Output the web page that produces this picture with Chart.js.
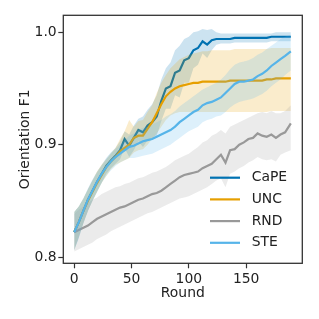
<!DOCTYPE html>
<html>
<head>
<meta charset="utf-8">
<script src="https://cdn.jsdelivr.net/npm/chart.js@4.4.0/dist/chart.umd.min.js"></script>
<style>
  html, body { margin: 0; padding: 0; background: #fff; }
  #wrap { width: 319px; height: 319px; position: relative; }
</style>
</head>
<body>
<div id="wrap"><canvas id="lineChart"></canvas></div>
<script>
const rounds = [0, 4, 8, 12, 16, 20, 24, 28, 32, 36, 40, 44, 48, 52, 56, 60, 64, 68, 72, 76,
  80, 84, 88, 92, 96, 100, 104, 108, 112, 116, 120, 124, 128, 132, 136, 140, 144, 148, 152, 156,
  160, 164, 168, 172, 176, 180, 184, 189];

const names = ['CaPE', 'UNC', 'RND', 'STE'];
const lineColors = ['#0072B2', '#E69F00', '#999999', '#56B4E9'];
const bandColors = ['rgba(0,114,178,0.2)', 'rgba(230,159,0,0.2)', 'rgba(153,153,153,0.2)', 'rgba(86,180,233,0.2)'];

const capeMean = [.822, .831, .841, .851, .859, .867, .874, .881, .886, .890,
  .895, .905, .899, .906, .913, .911, .917, .920, .925, .939,
  .950, .952, .964, .966, .975, .977, .984, .986, .992, .989,
  .993, .994, .994, .994, .994, .995, .995, .995, .995, .995,
  .995, .995, .995, .996, .996, .996, .996, .996];
const capeHi = [.840, .845, .852, .861, .869, .876, .882, .888, .893, .897,
  .903, .912, .909, .917, .923, .925, .931, .936, .944, .958,
  .968, .973, .984, .988, .994, .996, 1.0, 1.001, 1.003, 1.002,
  1.003, 1.0, .999, .999, .999, .999, .999, .999, .999, .999,
  .999, .999, .999, .999, 1.0, 1.0, 1.0, 1.0];
const capeLo = [.806, .817, .830, .841, .850, .858, .866, .874, .879, .883,
  .887, .897, .889, .895, .903, .898, .904, .905, .908, .921,
  .932, .932, .944, .942, .955, .955, .968, .971, .981, .977,
  .984, .989, .990, .990, .990, .991, .991, .991, .991, .991,
  .991, .991, .991, .992, .992, .992, .992, .992];

const uncMean = [.822, .831, .841, .850, .858, .866, .873, .880, .885, .889,
  .894, .897, .900, .906, .908, .908, .914, .920, .928, .936,
  .943, .947, .950, .952, .953, .954, .955, .955, .956, .956,
  .956, .956, .956, .956, .957, .957, .957, .957, .957, .957,
  .957, .957, .958, .958, .959, .959, .959, .959];
const uncHi = [.840, .845, .852, .860, .868, .876, .882, .887, .892, .897,
  .905, .912, .922, .916, .921, .922, .929, .935, .946, .955,
  .962, .968, .972, .976, .978, .980, .981, .982, .983, .983,
  .984, .984, .984, .984, .984, .985, .985, .985, .985, .985,
  .985, .985, .985, .986, .986, .986, .986, .986];
const uncLo = [.806, .818, .830, .841, .850, .858, .866, .872, .878, .882,
  .884, .886, .888, .893, .895, .896, .900, .905, .910, .916,
  .922, .926, .928, .929, .929, .929, .929, .929, .929, .929,
  .929, .929, .929, .929, .929, .929, .929, .929, .929, .929,
  .929, .929, .929, .930, .930, .930, .930, .930];

const rndMean = [.822, .824, .826, .828, .831, .834, .836, .838, .840, .842,
  .844, .845, .847, .849, .851, .852, .854, .856, .857, .859,
  .862, .865, .868, .871, .873, .874, .875, .876, .879, .881,
  .883, .887, .891, .884, .895, .896, .900, .902, .905, .906,
  .910, .908, .907, .909, .906, .909, .911, .919];
const rndHi = [.838, .842, .845, .848, .851, .853, .856, .858, .860, .862,
  .863, .865, .866, .868, .870, .871, .873, .875, .876, .878,
  .880, .883, .886, .888, .890, .892, .895, .898, .902, .904,
  .908, .910, .913, .910, .916, .918, .920, .922, .924, .926,
  .928, .929, .928, .930, .928, .928, .930, .935];
const rndLo = [.805, .807, .809, .811, .813, .816, .818, .820, .823, .825,
  .827, .829, .831, .833, .835, .837, .839, .840, .842, .844,
  .846, .848, .850, .852, .853, .854, .856, .858, .860, .862,
  .865, .868, .870, .862, .874, .876, .879, .881, .884, .886,
  .889, .887, .886, .887, .885, .891, .893, .895];

const steMean = [.822, .831, .841, .851, .859, .867, .874, .880, .885, .889,
  .892, .895, .898, .899, .901, .903, .904, .905, .907, .909,
  .911, .913, .916, .920, .923, .926, .929, .931, .935, .937,
  .938, .940, .942, .946, .950, .954, .956, .956, .957, .958,
  .961, .963, .966, .970, .973, .976, .979, .983];
const steHi = [.840, .845, .852, .860, .868, .875, .881, .887, .892, .896,
  .900, .904, .908, .910, .913, .915, .916, .918, .920, .922,
  .925, .927, .930, .934, .937, .940, .943, .946, .949, .951,
  .953, .955, .958, .962, .967, .971, .973, .974, .975, .977,
  .980, .982, .985, .988, .991, .994, .996, .998];
const steLo = [.806, .817, .830, .841, .850, .858, .866, .872, .877, .881,
  .884, .886, .888, .888, .889, .890, .891, .892, .894, .896,
  .898, .900, .903, .906, .909, .912, .914, .916, .920, .922,
  .923, .925, .926, .929, .933, .936, .938, .939, .940, .941,
  .943, .945, .948, .952, .955, .958, .962, .966];

const xTicks = [0, 50, 100, 150];
const yTicks = [0.8, 0.9, 1.0];

const means = [capeMean, uncMean, rndMean, steMean];
const his = [capeHi, uncHi, rndHi, steHi];
const los = [capeLo, uncLo, rndLo, steLo];

function pts(arr) {
  return rounds.map((r, i) => ({ x: r, y: arr[i] }));
}

const datasets = [];
names.forEach((name, s) => {
  datasets.push({ label: name + ' hi', data: pts(his[s]), borderWidth: 0, pointRadius: 0, fill: false, borderColor: 'rgba(0,0,0,0)' });
  datasets.push({ label: name + ' lo', data: pts(los[s]), borderWidth: 0, pointRadius: 0, fill: '-1', backgroundColor: bandColors[s], borderColor: 'rgba(0,0,0,0)' });
  datasets.push({ label: name, data: pts(means[s]), borderWidth: 2.2, pointRadius: 0, fill: false, borderColor: lineColors[s] });
});
// first dataset drawn first, last on top
datasets.forEach((d, i) => { d.order = datasets.length - i; });

const FONT = 'DejaVu Sans';

const framePlugin = {
  id: 'frame',
  afterDatasetsDraw(chart) {
    const { ctx, chartArea: a } = chart;
    ctx.save();
    ctx.strokeStyle = '#333';
    ctx.lineWidth = 1.3;
    ctx.strokeRect(a.left, a.top, a.right - a.left, a.bottom - a.top);
    ctx.restore();
  }
};

const legendPlugin = {
  id: 'myLegend',
  afterDraw(chart) {
    const ctx = chart.ctx;
    ctx.save();
    ctx.font = '13.9px "' + FONT + '"';
    ctx.textBaseline = 'middle';
    ctx.textAlign = 'left';
    names.forEach((name, i) => {
      const y = 177.7 + i * 21.7;
      ctx.strokeStyle = lineColors[i];
      ctx.lineWidth = 2.2;
      ctx.beginPath();
      ctx.moveTo(210, y);
      ctx.lineTo(240, y);
      ctx.stroke();
      ctx.fillStyle = '#222';
      ctx.fillText(name, 251.7, y);
    });
    ctx.restore();
  }
};

const ctx = document.getElementById('lineChart').getContext('2d');
new Chart(ctx, {
  type: 'line',
  data: { datasets: datasets },
  options: {
    responsive: true,
    maintainAspectRatio: false,
    devicePixelRatio: 1,
    animation: false,
    events: [],
    layout: { padding: { left: 0, top: 15.3, right: 16.7, bottom: 0 } },
    elements: { line: { tension: 0 } },
    plugins: {
      legend: { display: false },
      tooltip: { enabled: false },
      filler: { propagate: false }
    },
    scales: {
      x: {
        type: 'linear',
        min: -9.5,
        max: 199,
        afterBuildTicks: axis => { axis.ticks = xTicks.map(v => ({ value: v })); },
        afterFit: axis => { axis.height = 55.7; },
        grid: { drawOnChartArea: false, drawTicks: true, tickLength: 5, tickWidth: 1.2, tickColor: '#333' },
        border: { display: false },
        ticks: { font: { family: FONT, size: 13.9 }, color: '#222', padding: 3, maxRotation: 0 },
        title: { display: true, text: 'Round', font: { family: FONT, size: 13.9 }, color: '#222', padding: { top: 0, bottom: 17.3 } }
      },
      y: {
        type: 'linear',
        min: 0.7944,
        max: 1.0151,
        afterBuildTicks: axis => { axis.ticks = yTicks.map(v => ({ value: v })); },
        afterFit: axis => { axis.width = 63.3; },
        grid: { drawOnChartArea: false, drawTicks: true, tickLength: 5, tickWidth: 1.2, tickColor: '#333' },
        border: { display: false },
        ticks: { font: { family: FONT, size: 13.9 }, color: '#222', padding: 1.6, callback: v => v.toFixed(1) },
        title: { display: true, text: 'Orientation F1', font: { family: FONT, size: 13.9 }, color: '#222', padding: { top: 16.6, bottom: 0 } }
      }
    }
  },
  plugins: [framePlugin, legendPlugin]
});
</script>
</body>
</html>
